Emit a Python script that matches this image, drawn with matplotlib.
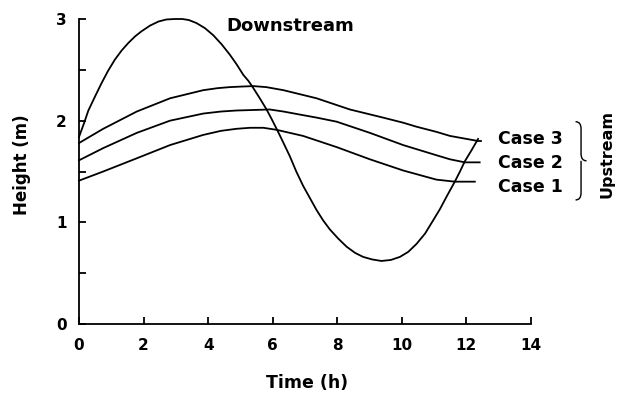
import numpy as np
import matplotlib
matplotlib.use("Agg")
import matplotlib.pyplot as plt
from matplotlib.path import Path
from matplotlib.patches import PathPatch

# ==========================================
# DATA
# ==========================================
downstream_t = [0.0, 0.15, 0.29, 0.50, 0.70, 0.90, 1.11, 1.32, 1.53, 1.74, 1.94, 2.20,
                2.46, 2.70, 2.97, 3.20, 3.40, 3.64, 3.90, 4.16, 4.42, 4.67, 4.88,
                5.09, 5.25, 5.40, 5.60, 5.81, 5.96, 6.12, 6.32, 6.53, 6.73, 6.94, 7.15,
                7.36, 7.56, 7.77, 8.03, 8.29, 8.55, 8.80, 9.08, 9.37, 9.66, 9.94,
                10.20, 10.46, 10.72, 10.97, 11.18, 11.38, 11.64, 11.80, 11.95, 12.16, 12.36]
downstream_h = [1.84, 1.97, 2.10, 2.24, 2.37, 2.49, 2.60, 2.69, 2.765, 2.83, 2.88, 2.935,
                2.975, 2.995, 3.00, 3.00, 2.99, 2.96, 2.91, 2.84, 2.75, 2.65, 2.555,
                2.45, 2.39, 2.32, 2.22, 2.11, 2.02, 1.92, 1.79, 1.65, 1.50, 1.36, 1.24,
                1.12, 1.02, 0.93, 0.84, 0.76, 0.70, 0.66, 0.635, 0.62, 0.63, 0.66,
                0.71, 0.79, 0.89, 1.02, 1.13, 1.25, 1.40, 1.50, 1.60, 1.71, 1.82]

case3_t = [0.0, 0.75, 1.79, 2.82, 3.85, 4.30, 4.67, 5.00, 5.40, 5.80, 6.33, 7.36,
           8.39, 9.42, 10.04, 10.46, 11.07, 11.49, 12.36, 12.45]
case3_h = [1.78, 1.92, 2.09, 2.22, 2.30, 2.32, 2.33, 2.335, 2.34, 2.33, 2.30, 2.22,
           2.11, 2.03, 1.98, 1.94, 1.89, 1.85, 1.80, 1.80]

case2_t = [0.0, 0.75, 1.79, 2.82, 3.85, 4.40, 4.88, 5.40, 5.91, 6.33, 6.84, 7.36,
           7.98, 9.01, 10.04, 11.07, 11.49, 11.95, 12.41]
case2_h = [1.61, 1.73, 1.88, 2.00, 2.07, 2.09, 2.10, 2.105, 2.11, 2.09, 2.06, 2.03,
           1.99, 1.88, 1.76, 1.66, 1.62, 1.59, 1.59]

case1_t = [0.0, 0.75, 1.79, 2.82, 3.85, 4.40, 4.88, 5.30, 5.71, 6.12, 6.94, 7.98,
           9.01, 10.04, 11.07, 11.64, 12.26]
case1_h = [1.41, 1.50, 1.63, 1.76, 1.86, 1.90, 1.92, 1.93, 1.93, 1.91, 1.85, 1.74,
           1.62, 1.51, 1.42, 1.40, 1.40]

x_ticks = [0, 2, 4, 6, 8, 10, 12, 14]
y_ticks = [0, 1, 2, 3]
y_minor = [0.5, 1.5, 2.5]

case_labels = ["Case 3", "Case 2", "Case 1"]
case_label_h = [1.82, 1.58, 1.35]

# ==========================================
# STYLE
# ==========================================
LW = 1.3
plt.rcParams['font.family'] = ['DejaVu Sans']
plt.rcParams['font.weight'] = 'bold'

fig = plt.figure(figsize=(6.18, 3.94), dpi=100)
ax = fig.add_axes([79 / 618, 1 - 324 / 394, (531 - 79) / 618, (324 - 19) / 394])

for t, h in [(downstream_t, downstream_h), (case3_t, case3_h),
             (case2_t, case2_h), (case1_t, case1_h)]:
    ax.plot(t, h, color='black', linewidth=LW, clip_on=False,
            solid_joinstyle='round')

ax.set_xlim(0, 14)
ax.set_ylim(0, 3)
ax.set_xticks(x_ticks)
ax.set_yticks(y_ticks)
ax.set_yticks(y_minor, minor=True)
ax.spines['top'].set_visible(False)
ax.spines['right'].set_visible(False)
for s in ['left', 'bottom']:
    ax.spines[s].set_linewidth(LW)
ax.tick_params(axis='both', which='both', direction='in', length=5, width=LW)
ax.tick_params(axis='x', pad=10, labelsize=11)
ax.tick_params(axis='y', pad=9, labelsize=11)
for lab in ax.get_xticklabels() + ax.get_yticklabels():
    lab.set_fontweight('bold')

# axis labels
fig.text(22 / 618, 1 - 165 / 394, "Height (m)", rotation=90, ha='center', va='center',
         fontsize=12, fontweight='bold')
fig.text(307 / 618, 1 - 383 / 394, "Time (h)", ha='center', va='center',
         fontsize=12.5, fontweight='bold')

ax.text(4.58, 2.93, "Downstream", ha='left', va='center', fontsize=13, fontweight='bold')
for lab, h in zip(case_labels, case_label_h):
    ax.text(12.97, h, lab, ha='left', va='center', fontsize=12.5, fontweight='bold',
            clip_on=False)
ax.text(16.36, 1.67, "Upstream", rotation=90, ha='center', va='center', fontsize=11.5,
        fontweight='bold', clip_on=False)

# curly brace grouping the upstream cases
x0, x1 = 15.38, 15.72
yt, yb = 1.99, 1.22
ym = (yt + yb) / 2
xm = (x0 + x1) / 2
r = 0.07
verts = [(x0, yt), (xm, yt), (xm, yt - r), (xm, ym + r),
         (xm, ym), (x1, ym),
         (xm, ym), (xm, ym - r), (xm, yb + r),
         (xm, yb), (x0, yb)]
codes = [Path.MOVETO, Path.CURVE3, Path.CURVE3, Path.LINETO,
         Path.CURVE3, Path.CURVE3,
         Path.MOVETO, Path.CURVE3, Path.LINETO,
         Path.CURVE3, Path.CURVE3]
brace = PathPatch(Path(verts, codes), facecolor='none', edgecolor='black',
                  linewidth=1.0, clip_on=False)
ax.add_patch(brace)

fig.savefig("out.png", dpi=100)
